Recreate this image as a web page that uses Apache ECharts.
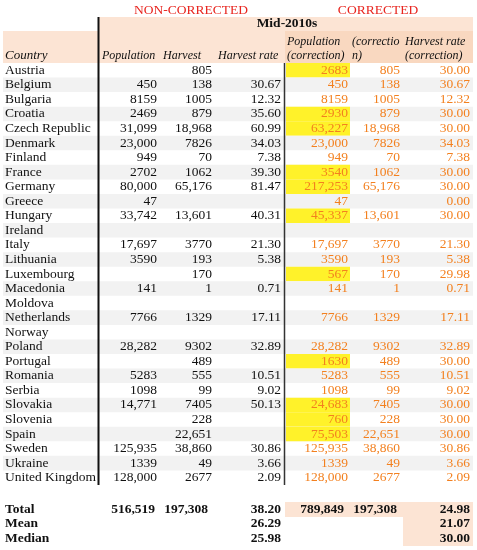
<!DOCTYPE html><html><head><meta charset="utf-8">
<script src="https://cdn.jsdelivr.net/npm/echarts@6/dist/echarts.min.js"></script>
<style>html,body{margin:0;padding:0;background:#fff}#c{width:477px;height:550px}</style></head><body><div id="c"></div>
<script>
const countries=["Austria","Belgium","Bulgaria","Croatia","Czech Republic","Denmark","Finland","France","Germany","Greece","Hungary","Ireland","Italy","Lithuania","Luxembourg","Macedonia","Moldova","Netherlands","Norway","Poland","Portugal","Romania","Serbia","Slovakia","Slovenia","Spain","Sweden","Ukraine","United Kingdom"];
const population=["","450","8159","2469","31,099","23,000","949","2702","80,000","47","33,742","","17,697","3590","","141","","7766","","28,282","","5283","1098","14,771","","","125,935","1339","128,000"];
const harvest=["805","138","1005","879","18,968","7826","70","1062","65,176","","13,601","","3770","193","170","1","","1329","","9302","489","555","99","7405","228","22,651","38,860","49","2677"];
const harvestRate=["","30.67","12.32","35.60","60.99","34.03","7.38","39.30","81.47","","40.31","","21.30","5.38","","0.71","","17.11","","32.89","","10.51","9.02","50.13","","","30.86","3.66","2.09"];
const popCorr=["2683","450","8159","2930","63,227","23,000","949","3540","217,253","47","45,337","","17,697","3590","567","141","","7766","","28,282","1630","5283","1098","24,683","760","75,503","125,935","1339","128,000"];
const harvCorr=["805","138","1005","879","18,968","7826","70","1062","65,176","","13,601","","3770","193","170","1","","1329","","9302","489","555","99","7405","228","22,651","38,860","49","2677"];
const rateCorr=["30.00","30.67","12.32","30.00","30.00","34.03","7.38","30.00","30.00","0.00","30.00","","21.30","5.38","29.98","0.71","","17.11","","32.89","30.00","10.51","9.02","30.00","30.00","30.00","30.86","3.66","2.09"];
const highlighted=["Austria","Croatia","Czech Republic","France","Germany","Hungary","Luxembourg","Portugal","Slovakia","Slovenia","Spain"];
const headers=["Country","Population","Harvest","Harvest rate","Population\n(correction)","(correctio\nn)","Harvest rate\n(correction)"];
const summaryLabels=["Total","Mean","Median"];
const summaryNC=[["516,519","197,308","38.20"],["","","26.29"],["","","25.98"]];
const summaryC=[["789,849","197,308","24.98"],["","","21.07"],["","","30.00"]];

const F='"Liberation Serif", serif', FS=13.5, HF=12, ORANGE='#f3801f', PEACH='#fce4d4', PEACH2='#f9d8c0';
const colRight=[0,157,212,281,348,400,470];
const y0=63,rh=14.55;
const g=[];
const rect=(x,y,w,h,c)=>g.push({type:'rect',shape:{x,y,width:w,height:h},style:{fill:c},silent:true});
const txt=(s,x,y,o)=>g.push({type:'text',x,y,style:Object.assign({text:s,font:`${FS}px ${F}`,fill:'#111',textVerticalAlign:'middle'},o||{}),silent:true});
rect(99,17,374,14,PEACH);
rect(3,31,96,32,PEACH);
rect(99,31,186,32,PEACH);
rect(285,31,188,32,PEACH2);
txt('NON-CORRECTED',191,10,{fill:'#e8251f',textAlign:'center'});
txt('CORRECTED',378,10,{fill:'#e8251f',textAlign:'center'});
txt('Mid-2010s',287,24,{textAlign:'center',font:`bold ${FS}px ${F}`});
txt(headers[0],5,56,{font:`italic ${HF+1}px ${F}`});
[1,2,3].forEach(i=>txt(headers[i],[102,163,218][i-1],56,{font:`italic ${HF}px ${F}`}));
[4,5,6].forEach(i=>txt(headers[i],[287,352,405][i-4],49,{font:`italic ${HF}px ${F}`,textLineHeight:14}));
countries.forEach((c,i)=>{
  const y=y0+i*rh;
  if(i%2===1) rect(3,y,470,rh,'#f2f2f2');
  if(highlighted.includes(c)) rect(286,y,64,rh,'#fff22a');
  const cy=y+rh/2;
  txt(c,5,cy);
  [population,harvest,harvestRate].forEach((arr,k)=>txt(arr[i],colRight[k+1],cy,{textAlign:'right'}));
  [popCorr,harvCorr,rateCorr].forEach((arr,k)=>txt(arr[i],colRight[k+4],cy,{textAlign:'right',fill:ORANGE}));
});
const yEnd=y0+countries.length*rh;
g.push({type:'line',shape:{x1:98.5,y1:17,x2:98.5,y2:yEnd},style:{stroke:'#111',lineWidth:2},silent:true});
g.push({type:'line',shape:{x1:284.5,y1:63,x2:284.5,y2:yEnd},style:{stroke:'#333',lineWidth:1.5},silent:true});
rect(285,502,188,15,PEACH);
rect(403,517,70,29,PEACH);
summaryLabels.forEach((s,i)=>{
  const cy=509.5+i*14.5;
  txt(s,5,cy,{font:`bold ${FS}px ${F}`});
  summaryNC[i].forEach((v,k)=>txt(v,[155,208,281][k],cy,{textAlign:'right',font:`bold ${FS}px ${F}`}));
  summaryC[i].forEach((v,k)=>txt(v,[344,397,470][k],cy,{textAlign:'right',font:`bold ${FS}px ${F}`}));
});
const ch=echarts.init(document.getElementById('c'));
ch.setOption({animation:false,graphic:{elements:g}});
</script></body></html>
